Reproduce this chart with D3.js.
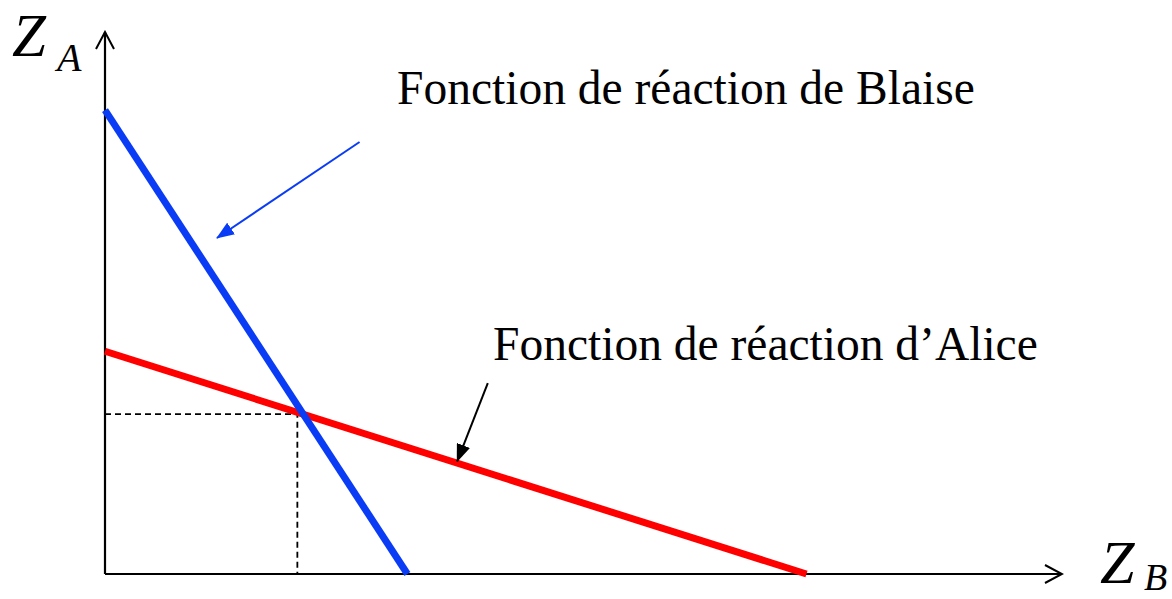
<!DOCTYPE html>
<html>
<head>
<meta charset="utf-8">
<script src="https://cdn.jsdelivr.net/npm/d3@7"></script>
<style>
html,body{margin:0;padding:0;background:#fff;}
svg{display:block;}
text{font-family:"Liberation Serif","Times New Roman",serif;fill:#000;}
</style>
</head>
<body>
<svg id="chart" width="1172" height="599"></svg>
<script>
// Data (abstract units, 0..100 on each axis)
const blaiseLine = [[0, 85.6], [31.6, 0]];
const aliceLine = [[0, 41.1], [73.3, 0]];
const equilibrium = [20.1, 29.5];
const labels = ["Fonction de réaction de Blaise", "Fonction de réaction d\u2019Alice"];
const axisLabels = [["Z", "A"], ["Z", "B"]];
const blaiseArrow = [[26.6, 79.7], [11.7, 62.0]];
const aliceArrow = [[40.0, 35.2], [36.8, 20.8]];

const svg = d3.select("#chart");
const x = d3.scaleLinear().domain([0, 100]).range([105, 1062]);
const y = d3.scaleLinear().domain([0, 100]).range([574, 32]);

const line = d3.line().x(d => x(d[0])).y(d => y(d[1]));

// defs: arrowheads
const defs = svg.append("defs");
defs.append("marker").attr("id", "openHead").attr("viewBox", "0 0 20 20")
  .attr("refX", 18).attr("refY", 10).attr("markerWidth", 20).attr("markerHeight", 20)
  .attr("markerUnits", "userSpaceOnUse").attr("orient", "auto")
  .append("path").attr("d", "M1,1 L18,10 L1,19").attr("fill", "none")
  .attr("stroke", "#000").attr("stroke-width", 2);
function filledHead(id, color) {
  defs.append("marker").attr("id", id).attr("viewBox", "0 0 18 14")
    .attr("refX", 17).attr("refY", 7).attr("markerWidth", 18).attr("markerHeight", 14)
    .attr("markerUnits", "userSpaceOnUse").attr("orient", "auto")
    .append("path").attr("d", "M0,0 L18,7 L0,14 Z").attr("fill", color);
}
filledHead("blueHead", "#0a3cf5");
filledHead("blackHead", "#000");

// Axes
svg.append("path").attr("d", line([[0, 0], [0, 100]]))
  .attr("stroke", "#000").attr("stroke-width", 2.2).attr("fill", "none")
  .attr("marker-end", "url(#openHead)");
svg.append("path").attr("d", line([[0, 0], [100, 0]]))
  .attr("stroke", "#000").attr("stroke-width", 2.2).attr("fill", "none")
  .attr("marker-end", "url(#openHead)");

// Dashed guides
svg.append("path").attr("d", line([[0, equilibrium[1]], equilibrium, [equilibrium[0], 0]]))
  .attr("stroke", "#000").attr("stroke-width", 1.8).attr("fill", "none")
  .attr("stroke-dasharray", "6,4");

// Reaction lines
svg.append("path").attr("d", line(aliceLine))
  .attr("stroke", "#ff0000").attr("stroke-width", 7).attr("fill", "none");
svg.append("path").attr("d", line(blaiseLine))
  .attr("stroke", "#0a3cf5").attr("stroke-width", 7).attr("fill", "none");

// Annotation arrows
svg.append("path").attr("d", line(blaiseArrow))
  .attr("stroke", "#0a3cf5").attr("stroke-width", 2).attr("fill", "none")
  .attr("marker-end", "url(#blueHead)");
svg.append("path").attr("d", line(aliceArrow))
  .attr("stroke", "#000").attr("stroke-width", 2).attr("fill", "none")
  .attr("marker-end", "url(#blackHead)");

// Labels
svg.append("text").attr("x", 397).attr("y", 104).attr("font-size", 47.5).text(labels[0]);
svg.append("text").attr("x", 493).attr("y", 359.5).attr("font-size", 47.5).text(labels[1]);

// Axis titles
function axisTitle(t, zx, zy, zs, sx, sy, ss) {
  const g = svg.append("text").attr("font-style", "italic");
  g.append("tspan").attr("x", zx).attr("y", zy).attr("font-size", zs).text(t[0]);
  g.append("tspan").attr("x", sx).attr("y", sy).attr("font-size", ss).text(t[1]);
}
axisTitle(axisLabels[0], 12, 56, 61, 57, 71, 40);
axisTitle(axisLabels[1], 1100, 583, 62, 1144, 590, 38);
</script>
</body>
</html>
